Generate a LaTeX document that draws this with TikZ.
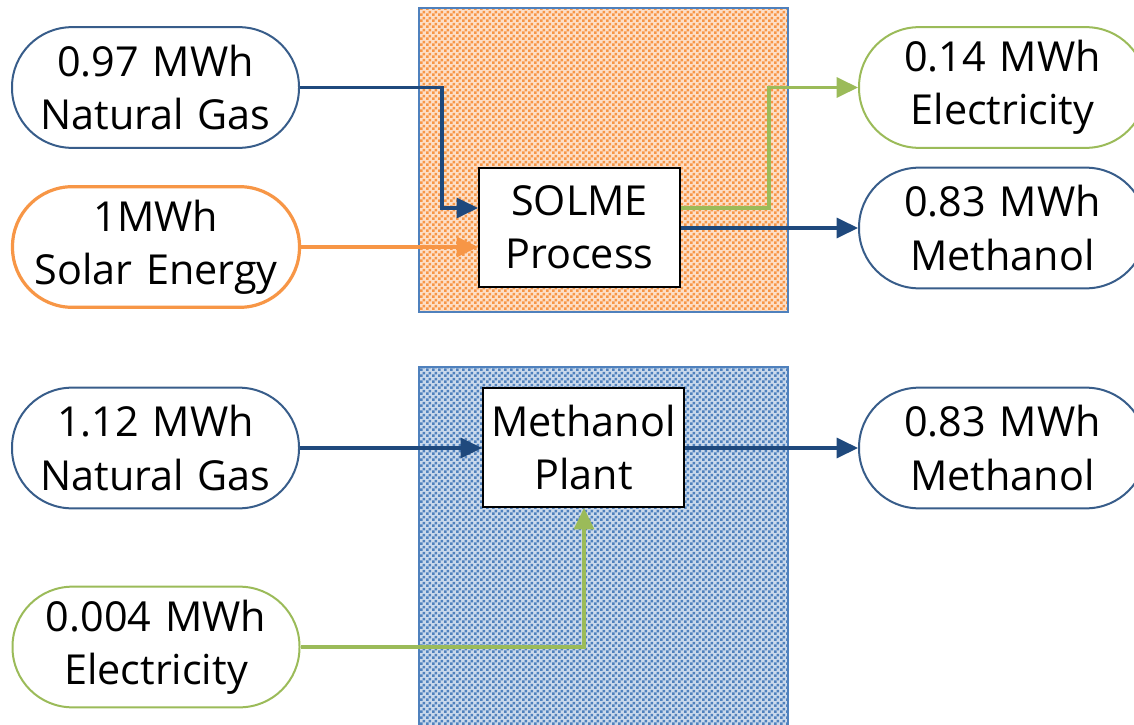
\documentclass[tikz,border=0pt]{standalone}
\usepackage{fontspec}
\setmainfont{Open Sans}
\usetikzlibrary{patterns.meta,arrows.meta,calc}
\definecolor{lineblue}{HTML}{1F497D}
\definecolor{bordblue}{HTML}{385D8A}
\definecolor{accblue}{HTML}{4F81BD}
\definecolor{accorange}{HTML}{F79646}
\definecolor{accgreen}{HTML}{9BBB59}
\tikzdeclarepattern{
  name=finechecks,
  type=uncolored,
  bottom left={(0pt,0pt)},
  top right={(4.5pt,4.5pt)},
  tile size={(4.5pt,4.5pt)},
  code={
    \fill (0pt,0pt) rectangle (2.25pt,2.25pt);
    \fill (2.25pt,2.25pt) rectangle (4.5pt,4.5pt);
  }
}
\tikzset{
  x=0.75pt, y=-0.75pt,
  pill/.style={draw, fill=white, rectangle, rounded corners=44.9pt, minimum width=215.25pt, minimum height=90.5pt, inner sep=0pt, text width=205pt, align=center, font=\fontsize{31}{40}\selectfont, line width=1.5pt},
  procbox/.style={draw=black, fill=white, line width=1.5pt, minimum width=150.75pt, minimum height=89.25pt, inner sep=0pt, align=center, font=\fontsize{31}{40}\selectfont},
  flow/.style={line width=2.5pt, -{Triangle[length=16pt,width=15pt]}},
  zone/.style={draw=accblue, line width=0.8pt},
}
\begin{document}
\begin{tikzpicture}
\useasboundingbox (0,0) rectangle (1134,724);
% background zones
\fill[accorange!30] (419,8) rectangle (788,312);
\fill[pattern=finechecks, pattern color=accorange] (419,8) rectangle (788,312);
\draw[zone] (419,8) rectangle (788,312);
\fill[accblue!30] (419,367) rectangle (788,760);
\fill[pattern=finechecks, pattern color=accblue] (419,367) rectangle (788,760);
\draw[zone] (419,367) rectangle (788,760);
% nodes
\node[pill, draw=bordblue] (ng1) at (155.5,87.5) {0.97 MWh\\Natural Gas};
\node[pill, draw=accorange, line width=2.4pt] (sol) at (156,247) {1MWh\\Solar Energy};
\node[pill, draw=accgreen] (el1) at (1002.5,87.5) {0.14 MWh\\Electricity};
\node[pill, draw=bordblue] (me1) at (1002.5,228) {0.83 MWh\\Methanol};
\node[pill, draw=bordblue] (ng2) at (155.5,448) {1.12 MWh\\Natural Gas};
\node[pill, draw=accgreen] (el2) at (156,647) {0.004 MWh\\Electricity};
\node[pill, draw=bordblue] (me2) at (1002.5,448) {0.83 MWh\\Methanol};
\node[procbox] (solme) at (579.5,227.5) {SOLME\\Process};
\node[procbox] (plant) at (583.5,447.5) {Methanol\\Plant};
% junction points
\coordinate (j1) at (442,208);
\coordinate (j2) at (769,208);
\coordinate (j3) at (584,647);
% connectors
\draw[flow, lineblue] (ng1.east) -| (j1) -- (solme.west |- j1);
\draw[flow, accorange] (sol.east) -- (solme.west |- sol.east);
\draw[flow, accgreen] (solme.east |- j2) -- (j2) |- (el1.west);
\draw[flow, lineblue] (solme.east |- me1.west) -- (me1.west);
\draw[flow, lineblue] (ng2.east) -- (plant.west |- ng2.east);
\draw[flow, lineblue] (plant.east |- me2.west) -- (me2.west);
\draw[flow, accgreen] (el2.east) -- (j3) -- (plant.south -| j3);
\end{tikzpicture}
\end{document}
